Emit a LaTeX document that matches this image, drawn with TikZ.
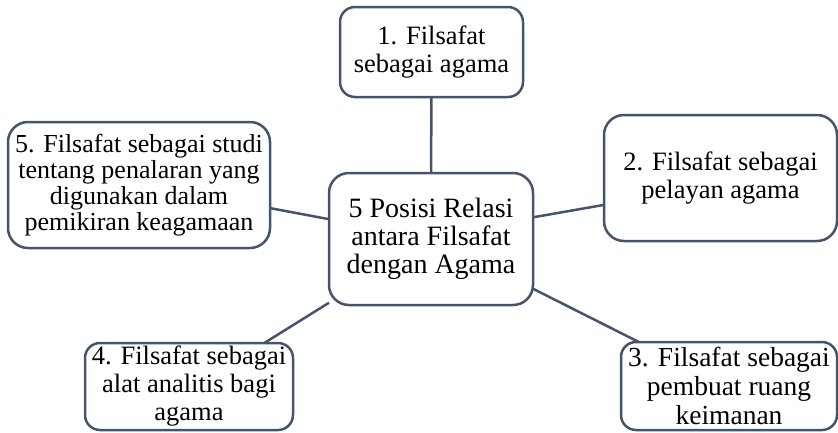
\documentclass[tikz,border=0pt]{standalone}
\usepackage{fontspec}
\setmainfont{Liberation Serif}
\definecolor{edge}{RGB}{68,84,106}
\begin{document}
\begin{tikzpicture}[x=1pt,y=-1pt,
  box/.style={draw=edge, line width=2.5pt, rounded corners=#1, align=center,
    inner sep=0pt, outer sep=0pt, text=black, font=\fontsize{26.5}{28}\selectfont},
  box/.default=15pt,
  hub/.style={font=\fontsize{28}{28}\selectfont},
  dense/.style={font=\fontsize{26}{26}\selectfont},
  wide/.style={font=\fontsize{27.5}{29}\selectfont},
  link/.style={draw=edge, line width=2.5pt}]
\useasboundingbox (0,0) rectangle (838,432);
\node[box=20pt, hub, minimum width=204pt, minimum height=132pt] (c) at (431,239)
  {5 Posisi Relasi\\antara Filsafat\\dengan Agama};
\node[box=15pt, minimum width=183pt, minimum height=90pt] (n1) at (431.5,52)
  {1. Filsafat\\sebagai agama};
\node[box=20pt, minimum width=233pt, minimum height=126pt] (n2) at (720.5,178)
  {2. Filsafat sebagai\\pelayan agama};
\node[box=15pt, wide, minimum width=216pt, minimum height=88pt] (n3) at (729,386)
  {3. Filsafat sebagai\\pembuat ruang\\keimanan};
\node[box=15pt, minimum width=208pt, minimum height=87pt] (n4) at (189,386.5)
  {4. Filsafat sebagai\\alat analitis bagi\\agama};
\node[box=20pt, dense, minimum width=262pt, minimum height=126pt] (n5) at (139,185)
  {5. Filsafat sebagai studi\\tentang penalaran yang\\digunakan dalam\\pemikiran keagamaan};
\draw[link] (c.north) -- (n1.south);
\draw[link] (c.12) -- (n2.193);
\draw[link] (c.-26) -- (n3.154);
\draw[link] (c.212) -- (n4.30);
\draw[link] (c.169) -- (n5.-10);
\end{tikzpicture}
\end{document}
